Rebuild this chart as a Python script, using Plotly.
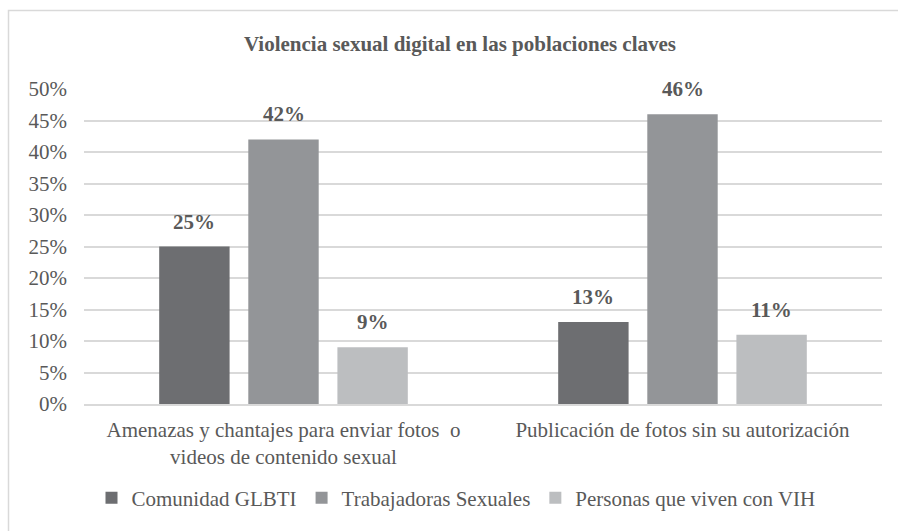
import plotly.graph_objects as go

categories = ["Amenazas y chantajes para enviar fotos  o<br>videos de contenido sexual",
              "Publicación de fotos sin su autorización"]
series_names = ["Comunidad GLBTI", "Trabajadoras Sexuales", "Personas que viven con VIH"]
glbti = [0.25, 0.13]
trabajadoras = [0.42, 0.46]
vih = [0.09, 0.11]
colors = ["#6d6e71", "#939598", "#bcbec0"]
y_ticks = [0, 0.05, 0.10, 0.15, 0.20, 0.25, 0.30, 0.35, 0.40, 0.45, 0.50]

FONT = "Liberation Serif"
TXT = "#595959"
FS = 21

W, H = 898, 531
L, R, T, B = 84, 16, 89, 127
pw, ph = W - L - R, H - T - B
BARGAP, GROUPGAP = 0.33, 0.21
slot_px = pw / len(categories) * (1 - BARGAP) / len(series_names)

def px_x(p):
    return (p - L) / pw

def px_y(p):
    return (H - B - p) / ph

fig = go.Figure()
annotations = []
for i, (name, vals, col) in enumerate(zip(series_names, [glbti, trabajadoras, vih], colors)):
    fig.add_trace(go.Bar(name=name, x=categories, y=vals, marker_color=col, marker_line_width=0))
    for cat, v in zip(categories, vals):
        annotations.append(dict(
            x=cat, y=v, xref="x", yref="y", text=f"<b>{v*100:.0f}%</b>", showarrow=False,
            xshift=(i - 1) * slot_px, yshift=25, yanchor="middle",
            font=dict(family=FONT, size=FS, color=TXT)))

fig.update_layout(
    width=W, height=H,
    margin=dict(l=L, r=R, t=T, b=B),
    paper_bgcolor="white", plot_bgcolor="white",
    barmode="group", bargap=BARGAP, bargroupgap=GROUPGAP,
    font=dict(family=FONT, size=FS, color=TXT),
    title=dict(text="<b>Violencia sexual digital en las poblaciones claves</b>",
               x=460 / W, xanchor="center", y=1 - 44 / H, yanchor="middle",
               font=dict(family=FONT, size=21, color=TXT)),
    showlegend=True,
    legend=dict(orientation="h", x=px_x(456), xanchor="center", y=px_y(498), yanchor="middle",
                font=dict(family=FONT, size=FS, color=TXT), itemwidth=30, traceorder="normal"),
    annotations=annotations,
    shapes=[dict(type="rect", xref="paper", yref="paper",
                 x0=px_x(8.5), x1=px_x(905), y0=px_y(540), y1=px_y(10.5),
                 line=dict(color="#d9d9d9", width=1.5), fillcolor="rgba(0,0,0,0)", layer="below")],
)
fig.update_xaxes(showgrid=False, showline=True, linecolor="#d9d9d9", linewidth=1.5,
                 ticks="", tickfont=dict(family=FONT, size=FS, color=TXT), ticklabelstandoff=6)
fig.update_yaxes(range=[0, 0.5], tickvals=y_ticks, tickformat=".0%", showgrid=True,
                 gridcolor="#d9d9d9", gridwidth=1.5, zeroline=False, showline=False,
                 tickfont=dict(family=FONT, size=FS, color=TXT), ticklabelstandoff=16)

fig.write_html("out.html", config={"displayModeBar": False},
               post_script="document.body.style.margin='0';")
